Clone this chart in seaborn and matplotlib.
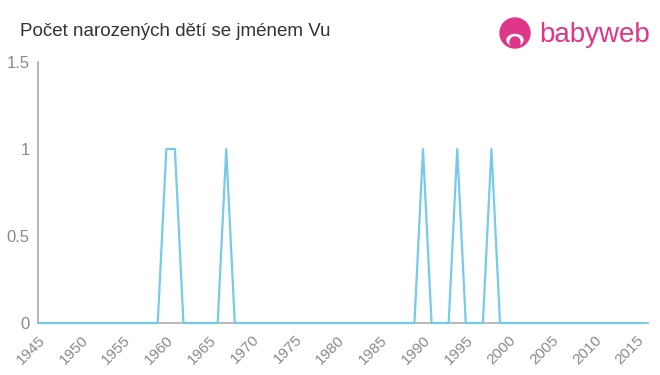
import matplotlib
matplotlib.use("Agg")
import matplotlib.pyplot as plt
import matplotlib.patches as mpatches
import seaborn as sns
import pandas as pd

title = "Počet narozených dětí se jménem Vu"
years = list(range(1945, 2017))
ones_years = [1960, 1961, 1967, 1990, 1994, 1998]
counts = [1 if y in ones_years else 0 for y in years]
x_ticks = list(range(1945, 2016, 5))
y_ticks = [0, 0.5, 1, 1.5]
y_tick_labels = ["0", "0.5", "1", "1.5"]

df = pd.DataFrame({"year": years, "count": counts})

sns.set_style("white")
plt.rcParams["font.family"] = ["Liberation Sans", "DejaVu Sans"]

fig = plt.figure(figsize=(6.6, 3.75), dpi=100)
ax = fig.add_axes([38/660, 52/375, (648-38)/660, (323-62)/375])

sns.lineplot(data=df, x="year", y="count", ax=ax, color="#76cbea",
             linewidth=1.6, zorder=5, clip_on=False)

ax.set_xlim(1945, 2016.3)
ax.set_ylim(0, 1.5)
ax.set_xticks(x_ticks)
ax.set_xticklabels([str(t) for t in x_ticks], rotation=45, ha="right",
                   rotation_mode="anchor", color="#8a8a8a", fontsize=11)
ax.set_yticks(y_ticks)
ax.set_yticklabels(y_tick_labels, color="#8a8a8a", fontsize=12)
ax.set_xlabel("")
ax.set_ylabel("")
for s in ["top", "right"]:
    ax.spines[s].set_visible(False)
for s in ["left", "bottom"]:
    ax.spines[s].set_color("#bbbbbb")
    ax.spines[s].set_linewidth(1.5)
    ax.spines[s].set_zorder(1)
ax.tick_params(axis="both", length=4, width=1.2, color="#bbbbbb", pad=2)
ax.tick_params(axis="x", pad=3)
ax.grid(False)

fig.text(20/660, 1 - 31/375, title, fontsize=13.5, color="#333333",
         ha="left", va="center")

# logo
pink = "#e0368a"
fig.add_artist(mpatches.Circle((515, 375 - 33), 15, transform=None,
                               color=pink))
fig.add_artist(mpatches.Ellipse((515, 375 - 40), 16, 11, transform=None,
                                color="white"))
fig.add_artist(mpatches.Circle((515, 375 - 42), 5, transform=None,
                               color=pink))
fig.text(539/660, 1 - 35/375, "babyweb", fontsize=20, color=pink,
         ha="left", va="center", fontweight="normal")

fig.savefig("out.png", dpi=100)
